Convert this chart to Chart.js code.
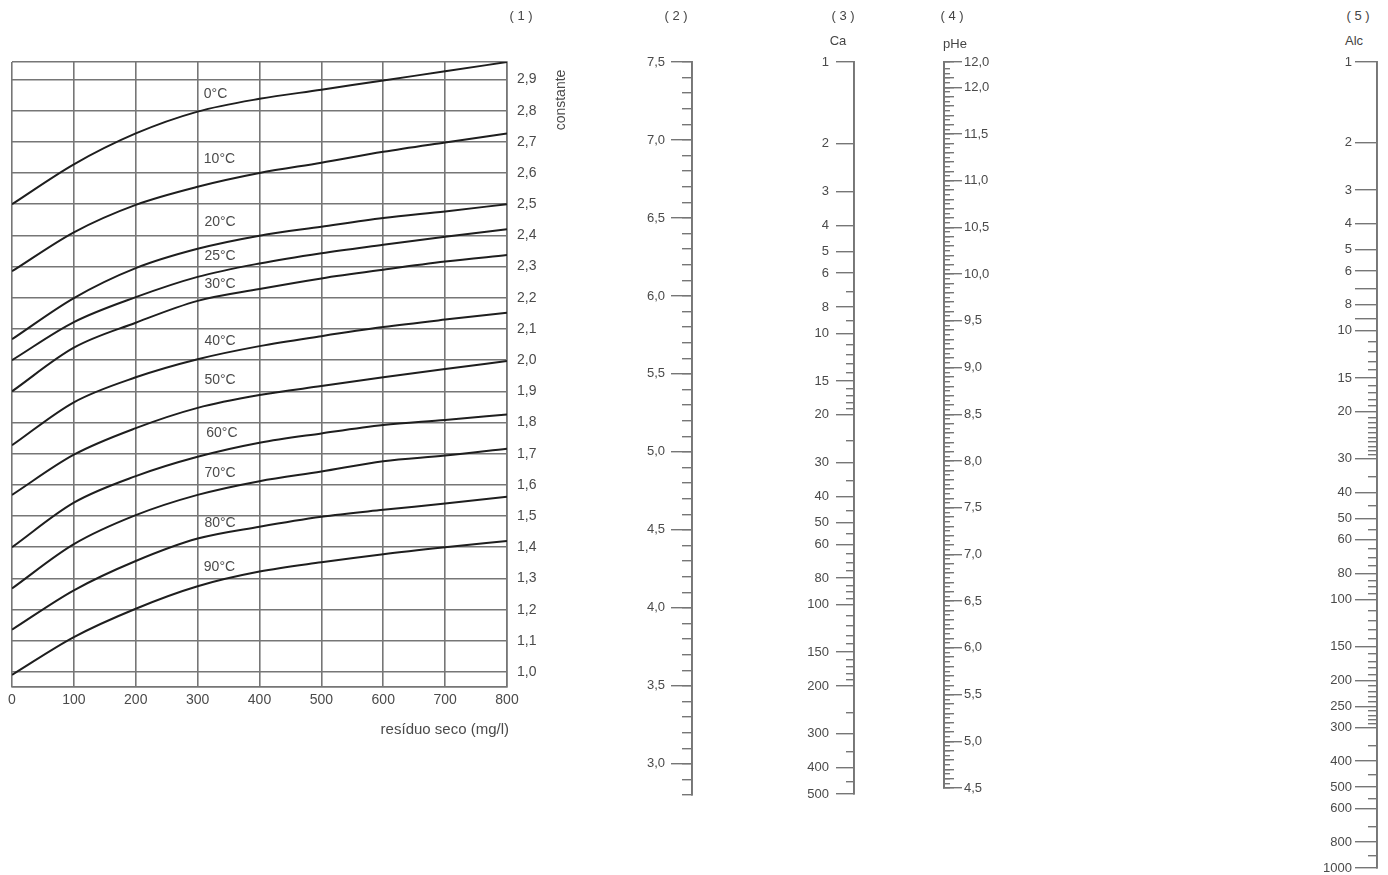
<!DOCTYPE html>
<html><head><meta charset="utf-8">
<script src="https://cdn.jsdelivr.net/npm/chart.js@4.4.1/dist/chart.umd.min.js"></script>
<style>
html,body{margin:0;padding:0;background:#fff;width:1388px;height:875px;overflow:hidden;font-family:"Liberation Sans",Arial,sans-serif;}
.box{position:absolute;}
.box canvas{position:absolute;left:0;top:0;}
.hdr{position:absolute;transform:translate(-50%,-50%);font-size:13px;color:#444;white-space:pre;line-height:1;}
</style></head><body>
<div class="box" style="left:0;top:0;width:600px;height:760px;"><canvas id="main" width="600" height="760"></canvas></div>
<div class="hdr" style="left:521px;top:15px;">( 1 )</div>
<div class="hdr" style="left:676px;top:15px;">( 2 )</div>
<div class="hdr" style="left:843px;top:15px;">( 3 )</div>
<div class="hdr" style="left:838px;top:40px;">Ca</div>
<div class="hdr" style="left:952px;top:15px;">( 4 )</div>
<div class="hdr" style="left:955px;top:43px;">pHe</div>
<div class="hdr" style="left:1358px;top:15px;">( 5 )</div>
<div class="hdr" style="left:1354px;top:40px;">Alc</div>
<script>
// ---------- data ----------
const residuoSeco = [0, 100, 200, 300, 400, 500, 600, 700, 800];
const temperatureLabels = ['0°C','10°C','20°C','25°C','30°C','40°C','50°C','60°C','70°C','80°C','90°C'];
const t0  = [2.500, 2.628, 2.727, 2.797, 2.838, 2.867, 2.897, 2.926, 2.956];
const t10 = [2.285, 2.410, 2.498, 2.556, 2.600, 2.633, 2.668, 2.698, 2.727];
const t20 = [2.067, 2.199, 2.295, 2.357, 2.399, 2.428, 2.456, 2.477, 2.500];
const t25 = [2.000, 2.122, 2.202, 2.267, 2.310, 2.343, 2.370, 2.396, 2.420];
const t30 = [1.900, 2.040, 2.120, 2.190, 2.228, 2.262, 2.290, 2.316, 2.337];
const t40 = [1.727, 1.865, 1.945, 2.003, 2.045, 2.077, 2.106, 2.130, 2.152];
const t50 = [1.568, 1.697, 1.782, 1.847, 1.888, 1.917, 1.945, 1.972, 1.997];
const t60 = [1.400, 1.543, 1.628, 1.690, 1.735, 1.765, 1.792, 1.808, 1.826];
const t70 = [1.268, 1.410, 1.503, 1.568, 1.612, 1.643, 1.676, 1.694, 1.716];
const t80 = [1.136, 1.262, 1.356, 1.428, 1.466, 1.498, 1.520, 1.540, 1.562];
const t90 = [0.991, 1.112, 1.203, 1.275, 1.322, 1.352, 1.378, 1.400, 1.420];
const curveSeries = [t0, t10, t20, t25, t30, t40, t50, t60, t70, t80, t90];

const residuoTicks = [0, 100, 200, 300, 400, 500, 600, 700, 800];
const constanteTicks = [1.0,1.1,1.2,1.3,1.4,1.5,1.6,1.7,1.8,1.9,2.0,2.1,2.2,2.3,2.4,2.5,2.6,2.7,2.8,2.9];
const constanteMin = 0.952, constanteMax = 2.956;
// label anchors (data units) for the curve names
const curveLabelX = [310, 310, 311, 311, 311, 311, 311, 314, 311, 311, 310];
const curveLabelY = [2.852, 2.643, 2.441, 2.335, 2.245, 2.062, 1.937, 1.767, 1.639, 1.478, 1.337];

// scale (2)
const scale2Ticks = [7.5, 7.0, 6.5, 6.0, 5.5, 5.0, 4.5, 4.0, 3.5, 3.0];
// scale (3) Ca
const caTicks = [1,2,3,4,5,6,8,10,15,20,30,40,50,60,80,100,150,200,300,400,500];
const caMinorTicks = [7,9,11,12,13,14,16,17,18,19,25,35,45,55,65,70,75,85,90,95,110,120,130,140,160,170,180,190,250,350,450];
// scale (4) pHe
const pheTicks = [12.27, 12.0, 11.5, 11.0, 10.5, 10.0, 9.5, 9.0, 8.5, 8.0, 7.5, 7.0, 6.5, 6.0, 5.5, 5.0, 4.5];
const pheTickLabels = ['12,0','12,0','11,5','11,0','10,5','10,0','9,5','9,0','8,5','8,0','7,5','7,0','6,5','6,0','5,5','5,0','4,5'];
// scale (5) Alc
const alcTicks = [1,2,3,4,5,6,7,8,9,10,15,20,30,40,50,60,80,100,150,200,250,300,400,500,600,800,1000];
const alcTickLabels = ['1','2','3','4','5','6','','8','','10','15','20','30','40','50','60','80','100','150','200','250','300','400','500','600','800','1000'];
const alcMinorTicks = [11,12,13,14,16,17,18,19,21,22,23,24,25,26,27,28,29,35,45,55,65,70,75,85,90,95,110,120,130,140,160,170,180,190,210,220,230,240,260,270,280,290,350,450,550,700,900];

// ---------- styling ----------
Chart.defaults.font.family = '"Liberation Sans", Arial, sans-serif';
const GRID = '#767676';
const TXT = '#4a4a4a';
const comma = v => v.toFixed(1).replace('.', ',');

const textPlugin = {
  id: 'textPlugin',
  afterDatasetsDraw(chart) {
    const {ctx, scales: {x, y}} = chart;
    ctx.save();
    ctx.fillStyle = TXT;
    ctx.font = '14px "Liberation Sans", Arial, sans-serif';
    ctx.textBaseline = 'middle';
    ctx.textAlign = 'left';
    temperatureLabels.forEach((name, i) => {
      ctx.fillText(name, x.getPixelForValue(curveLabelX[i]), y.getPixelForValue(curveLabelY[i]));
    });
    ctx.textAlign = 'right';
    ctx.font = '15px "Liberation Sans", Arial, sans-serif';
    ctx.fillText('resíduo seco (mg/l)', x.right + 2, 730);
    ctx.font = '14px "Liberation Sans", Arial, sans-serif';
    ctx.translate(x.right + 54, 100);
    ctx.rotate(-Math.PI / 2);
    ctx.textAlign = 'center';
    ctx.fillText('constante', 0, 0);
    ctx.restore();
  }
};

new Chart(document.getElementById('main'), {
  type: 'line',
  data: {
    datasets: curveSeries.map((s, i) => ({
      label: temperatureLabels[i],
      data: residuoSeco.map((xv, j) => ({x: xv, y: s[j]})),
      borderColor: '#1e1e1e', borderWidth: 2, pointRadius: 0,
      cubicInterpolationMode: 'monotone', fill: false
    }))
  },
  options: {
    responsive: false, animation: false, events: [],
    layout: {padding: {left: 12, top: 62, right: 0, bottom: 0}},
    plugins: {legend: {display: false}, tooltip: {enabled: false}},
    scales: {
      x: {
        type: 'linear', min: 0, max: 800, position: 'bottom',
        afterFit: s => { s.height = 73; },
        afterBuildTicks: s => { s.ticks = residuoTicks.map(v => ({value: v})); },
        grid: {color: GRID, lineWidth: 1.6, drawTicks: false},
        border: {display: true, color: GRID, width: 1.6},
        ticks: {padding: 5, color: TXT, font: {size: 14}, maxRotation: 0, autoSkip: false, callback: v => String(v)}
      },
      y: {
        type: 'linear', min: constanteMin, max: constanteMax, position: 'right',
        afterFit: s => { s.width = 93; },
        afterBuildTicks: s => { s.ticks = [constanteMin, ...constanteTicks, constanteMax].map(v => ({value: v})); },
        grid: {color: GRID, lineWidth: 1.6, drawTicks: false},
        border: {display: true, color: GRID, width: 1.6},
        ticks: {padding: 10, color: TXT, font: {size: 14}, autoSkip: false,
          callback: v => constanteTicks.includes(v) ? comma(v) : ''}
      }
    }
  },
  plugins: [textPlugin]
});

// ---------- nomogram scales ----------
function nomoScale(o) {
  const PAD = 20, AREA = 4;
  const W = o.width;
  const cw = W + AREA, ch = o.bottom - o.top + 2 * PAD;
  const div = document.createElement('div');
  div.className = 'box';
  div.style.left = (o.side === 'left' ? o.axisX - W : o.axisX - AREA) + 'px';
  div.style.top = (o.top - PAD) + 'px';
  div.style.width = cw + 'px';
  div.style.height = ch + 'px';
  document.body.appendChild(div);
  o.layers.forEach(layer => {
    const cv = document.createElement('canvas');
    cv.width = cw; cv.height = ch;
    div.appendChild(cv);
    const yOpts = {
      type: o.type, position: o.side, reverse: !!o.reverse, min: o.min, max: o.max,
      afterFit: s => { s.width = W; },
      grid: {drawOnChartArea: false, drawTicks: true, tickLength: layer.length, color: GRID, lineWidth: 1.4},
      border: {display: true, color: GRID, width: 1.8},
      ticks: {
        display: !!layer.labels, autoSkip: false, padding: o.pad || 6, color: TXT,
        font: {size: 13},
        callback: (v, i) => layer.labels ? layer.labels[i] : ''
      }
    };
    if (layer.values) {
      yOpts.afterBuildTicks = s => { s.ticks = layer.values.map(v => ({value: v})); };
    } else {
      yOpts.ticks.stepSize = layer.step;
    }
    new Chart(cv, {
      type: 'line',
      data: {datasets: []},
      options: {
        responsive: false, animation: false, events: [],
        layout: {padding: {top: PAD, bottom: PAD, left: 0, right: 0}},
        plugins: {legend: {display: false}, tooltip: {enabled: false}},
        scales: {
          x: {type: 'linear', display: false, min: 0, max: 1},
          y: yOpts
        }
      }
    });
  });
}

nomoScale({
  axisX: 692, top: 62, bottom: 795, side: 'left', type: 'linear', min: 2.8, max: 7.5, width: 72, pad: 6,
  layers: [
    {step: 0.1, length: 10},
    {values: scale2Ticks, labels: scale2Ticks.map(comma), length: 21}
  ]
});
nomoScale({
  axisX: 854, top: 62, bottom: 794, side: 'left', type: 'logarithmic', reverse: true, min: 1, max: 500, width: 72, pad: 7,
  layers: [
    {values: caMinorTicks, length: 8},
    {values: caTicks, labels: caTicks.map(String), length: 18}
  ]
});
nomoScale({
  axisX: 944, top: 62, bottom: 788, side: 'right', type: 'linear', min: 4.5, max: 12.27, width: 60, pad: 2,
  layers: [
    {step: 0.05, length: 6},
    {step: 0.1, length: 10},
    {values: pheTicks, labels: pheTickLabels, length: 18}
  ]
});
nomoScale({
  axisX: 1377, top: 62, bottom: 868, side: 'left', type: 'logarithmic', reverse: true, min: 1, max: 1000, width: 80, pad: 3,
  layers: [
    {values: alcMinorTicks, length: 9},
    {values: alcTicks, labels: alcTickLabels, length: 22}
  ]
});
</script>
</body></html>
